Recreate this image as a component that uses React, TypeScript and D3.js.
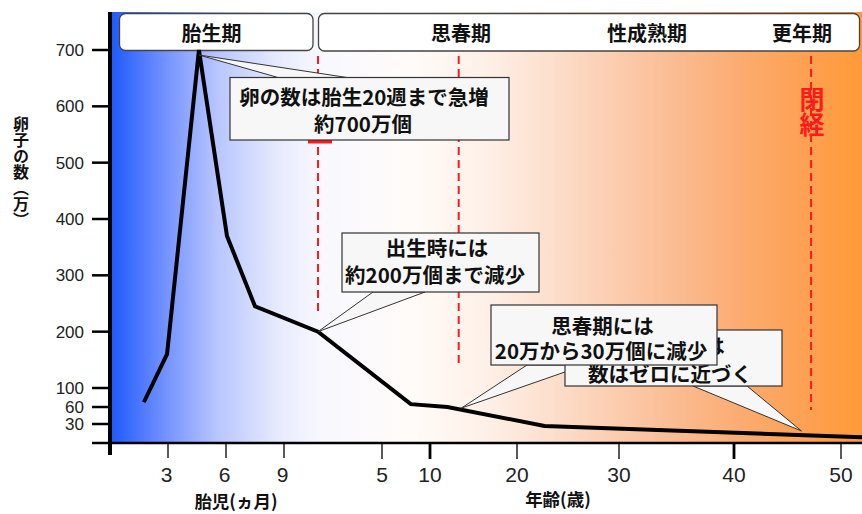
import React from 'react';
import * as d3 from 'd3';

// Egg count axis (unit: 万)
const yTickValues = [30, 60, 100, 200, 300, 400, 500, 600, 700];
const yTickLabels = ['30', '60', '100', '200', '300', '400', '500', '600', '700'];

// Fetal period, in months
const fetalTickValues = [3, 6, 9];
const fetalTickLabels = ['3', '6', '9'];
const fetalMonths = [1.75, 2.95, 4.6, 6.05, 7.5];
const fetalCounts = [70, 160, 700, 370, 245];

// After birth, in years
const ageTickValues = [5, 10, 20, 30, 40, 50];
const ageTickLabels = ['5', '10', '20', '30', '40', '50'];
const ageMajorTicks = [10, 40];
const ageYears = [0, 8, 12, 22.7, 52];
const ageCounts = [200, 66, 60, 27, 9];

// Life stages and event markers (age in years)
const stageNames = ['胎生期', '思春期', '性成熟期', '更年期'];
const eventAges = [0, 13.3, 47.2];
const menopauseLabel = '閉経';

// Callout texts and the [age, count] they point at
const calloutPeak = ['卵の数は胎生20週まで急増', '約700万個'];
const calloutBirth = ['出生時には', '約200万個まで減少'];
const calloutPuberty = ['思春期には', '20万から30万個に減少'];
const calloutPubertyAnchor = [13.6, 58];
const calloutMeno = ['更年期には', '数はゼロに近づく'];
const calloutMenoAnchor = [46.3, 19];

const yTitle = '卵子の数（万）';
const xTitleFetal = '胎児(ヵ月)';
const xTitleAge = '年齢(歳)';

const JP = '"Noto Sans CJK JP", "Noto Sans", sans-serif';
const LAT = '"Liberation Sans", Arial, sans-serif';

export default function App() {
  const W = 862;
  const H = 514;
  const axisX = 110;
  const axisY = 443;

  const y = d3.scaleLinear().domain([0, 30, 60, 100, 700]).range([axisY, 424, 407, 388, 50]);
  const fx = d3.scaleLinear().domain([0, 9]).range([axisX, 284]);
  const ax = d3
    .scaleLinear()
    .domain([0, 5, 10, 20, 30, 40, 50, 52])
    .range([318, 382, 430, 517, 619, 734, 841, 862]);

  const pts: [number, number][] = [
    ...fetalMonths.map((m, i) => [fx(m), y(fetalCounts[i])] as [number, number]),
    ...ageYears.map((a, i) => [ax(a), y(ageCounts[i])] as [number, number]),
  ];
  const linePath = d3.line()(pts) || '';

  const peakIdx = fetalCounts.indexOf(d3.max(fetalCounts) as number);
  const peakPt: [number, number] = [fx(fetalMonths[peakIdx]), y(fetalCounts[peakIdx]) + 5];
  const birthPt: [number, number] = [ax(ageYears[0]), y(ageCounts[0])];
  const pubPt: [number, number] = [ax(calloutPubertyAnchor[0]), y(calloutPubertyAnchor[1])];
  const menoPt: [number, number] = [ax(calloutMenoAnchor[0]), y(calloutMenoAnchor[1])];

  const stops = [
    [0, '#1f5bff'],
    [0.03, '#4371ff'],
    [0.08, '#7d99ff'],
    [0.14, '#b8c5ff'],
    [0.22, '#e6eafd'],
    [0.28, '#f8f8fe'],
    [0.4, '#fffbf8'],
    [0.5, '#fef0e7'],
    [0.6, '#fcdcc8'],
    [0.72, '#fbc29d'],
    [0.84, '#fcab70'],
    [0.93, '#fda050'],
    [1, '#ff9a38'],
  ];

  const tri = (tip: [number, number], a: [number, number], b: [number, number]) =>
    `M${tip[0]},${tip[1]}L${a[0]},${a[1]}L${b[0]},${b[1]}Z`;

  const calloutBox = (x0: number, y0: number, x1: number, y1: number) => (
    <rect x={x0} y={y0} width={x1 - x0} height={y1 - y0} fill="#f7f7f7" stroke="#333" strokeWidth={1.2} />
  );
  const tail = (d: string) => <path d={d} fill="#f7f7f7" stroke="#333" strokeWidth={1} />;
  const ctext = (t: string, cx: number, cy: number) => (
    <text x={cx} y={cy} textAnchor="middle" dominantBaseline="central" fontFamily={JP} fontWeight={700} fontSize={20.5} fill="#111">
      {t}
    </text>
  );

  const stageX = [211.5, 461, 647, 802];

  return (
    <svg width={W} height={H} style={{ position: 'absolute', left: 0, top: 0, background: '#fff' }}>
      <defs>
        <linearGradient id="lifeBg" x1="0" x2="1" y1="0" y2="0">
          {stops.map(([o, c]) => (
            <stop key={String(o)} offset={o as number} stopColor={c as string} />
          ))}
        </linearGradient>
      </defs>

      <rect x={axisX + 2} y={12} width={W - axisX - 2} height={axisY - 12} fill="url(#lifeBg)" />

      {/* stage header boxes */}
      <rect x={119.5} y={13.5} width={193.5} height={37} rx={6} fill="#fff" stroke="#444" strokeWidth={1.3} />
      <rect x={318.5} y={13.5} width={541} height={37.5} rx={6} fill="#fff" stroke="#444" strokeWidth={1.3} />
      {stageNames.map((s, i) => (
        <text key={s} x={stageX[i]} y={32} textAnchor="middle" dominantBaseline="central" fontFamily={JP} fontWeight={700} fontSize={20} fill="#111">
          {s}
        </text>
      ))}

      {/* event markers */}
      {eventAges.map((a, i) => (
        <line
          key={a}
          x1={ax(a)}
          x2={ax(a)}
          y1={56}
          y2={[312, 365, 410][i]}
          stroke="#ff1a1a"
          strokeWidth={2}
          strokeDasharray="8,5"
        />
      ))}
      <rect x={308} y={140} width={24} height={3.5} fill="#ff1a1a" />
      <text
        x={ax(eventAges[2]) + 1}
        y={87}
        fontFamily={JP}
        fontWeight={700}
        fontSize={25}
        fill="#ff1a1a"
        style={{ writingMode: 'vertical-rl' }}
      >
        {menopauseLabel}
      </text>

      {/* axes */}
      <line x1={92} x2={W} y1={axisY} y2={axisY} stroke="#000" strokeWidth={2.5} />
      <line x1={axisX} x2={axisX} y1={12} y2={455} stroke="#000" strokeWidth={4} />
      {yTickValues.map((v, i) => (
        <g key={v}>
          <line x1={92} x2={axisX} y1={y(v)} y2={y(v)} stroke="#000" strokeWidth={2.5} />
          <text x={84} y={y(v) + 6} textAnchor="end" fontFamily={LAT} fontSize={17} fill="#222">
            {yTickLabels[i]}
          </text>
        </g>
      ))}
      {fetalTickValues.map((v, i) => (
        <g key={'f' + v}>
          <line x1={fx(v)} x2={fx(v)} y1={axisY} y2={458} stroke="#000" strokeWidth={1.3} />
          <text x={fx(v) - 1.5} y={482} textAnchor="middle" fontFamily={LAT} fontSize={21} fill="#222">
            {fetalTickLabels[i]}
          </text>
        </g>
      ))}
      {ageTickValues.map((v, i) => (
        <g key={'a' + v}>
          <line
            x1={ax(v)}
            x2={ax(v)}
            y1={axisY}
            y2={459}
            stroke="#000"
            strokeWidth={ageMajorTicks.includes(v) ? 2.8 : 1.3}
          />
          <text x={ax(v)} y={482} textAnchor="middle" fontFamily={LAT} fontSize={21} fill="#222">
            {ageTickLabels[i]}
          </text>
        </g>
      ))}

      {/* axis titles */}
      <text x={236} y={500} textAnchor="middle" dominantBaseline="central" fontFamily={JP} fontWeight={700} fontSize={17.5} fill="#111">
        {xTitleFetal}
      </text>
      <text x={558} y={498} textAnchor="middle" dominantBaseline="central" fontFamily={JP} fontWeight={700} fontSize={17.5} fill="#111">
        {xTitleAge}
      </text>
      <text
        x={21}
        y={116}
        fontFamily={JP}
        fontWeight={700}
        fontSize={16}
        fill="#111"
        style={{ writingMode: 'vertical-rl' }}
      >
        {yTitle}
      </text>

      {/* egg count curve */}
      <path d={linePath} fill="none" stroke="#000" strokeWidth={4} strokeLinejoin="miter" />

      {/* callouts */}
      {tail(tri(peakPt, [278, 77.5], [347, 77.5]))}
      {calloutBox(230, 77.5, 509, 140)}
      {ctext(calloutPeak[0], 364, 96)}
      {ctext(calloutPeak[1], 363, 122.5)}

      {tail(tri(birthPt, [373, 292], [425, 292]))}
      {calloutBox(342, 233, 539, 292)}
      {ctext(calloutBirth[0], 437, 247)}
      {ctext(calloutBirth[1], 435, 273.5)}

      {tail(tri(pubPt, [527, 365], [585, 365]))}

      {tail(tri(menoPt, [693, 386], [747, 386]))}
      {calloutBox(565, 330, 782, 386)}
      {ctext(calloutMeno[0], 673.5, 345)}
      {ctext(calloutMeno[1], 670, 373)}

      {calloutBox(491, 305, 717, 365)}
      {ctext(calloutPuberty[0], 602.5, 325)}
      {ctext(calloutPuberty[1], 601, 350)}
    </svg>
  );
}
